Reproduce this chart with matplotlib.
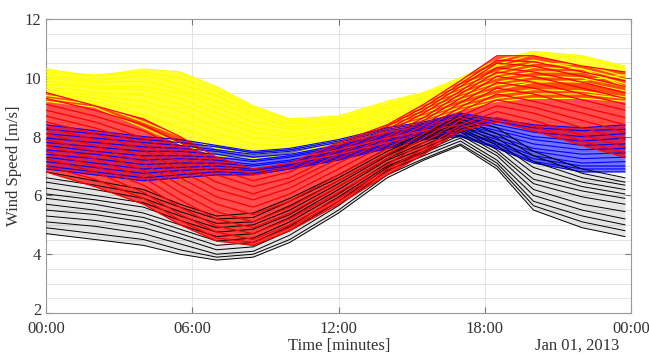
import numpy as np
import matplotlib
matplotlib.use('Agg')
from matplotlib import pyplot as plt
from matplotlib.transforms import ScaledTranslation

hours = [0, 2, 4, 5.5, 7, 8.5, 10, 12, 14, 15.5, 17, 18.5, 20, 22, 23.75]

yellow_days = [
    [10.3, 10.05, 10.3, 10.2, 9.7, 9.05, 8.6, 8.7, 9.2, 9.5, 10.0, 10.6, 10.9, 10.75, 10.4],
    [10.2, 10.1, 10.2, 10.0, 9.55, 8.95, 8.55, 8.6, 9.1, 9.45, 9.9, 10.45, 10.8, 10.7, 10.3],
    [10.1, 9.9, 10.1, 9.8, 9.4, 8.8, 8.45, 8.55, 9.0, 9.35, 9.85, 10.4, 10.6, 10.3, 9.7],
    [10.0, 9.85, 9.9, 9.6, 9.2, 8.7, 8.35, 8.45, 8.95, 9.3, 9.75, 10.2, 10.5, 10.45, 10.05],
    [9.9, 9.7, 9.7, 9.5, 9.0, 8.5, 8.25, 8.4, 8.85, 9.2, 9.65, 10.1, 10.35, 10.3, 9.95],
    [9.8, 9.65, 9.6, 9.3, 8.8, 8.3, 8.1, 8.3, 8.75, 9.1, 9.55, 10.0, 10.2, 10.2, 9.8],
    [9.7, 9.5, 9.4, 9.1, 8.6, 8.15, 8.0, 8.2, 8.65, 9.0, 9.45, 9.85, 10.05, 10.0, 9.7],
    [9.6, 9.4, 9.2, 8.85, 8.35, 7.95, 7.85, 8.1, 8.55, 8.9, 9.35, 9.75, 9.9, 9.85, 9.55],
    [9.5, 9.3, 9.0, 8.6, 8.1, 7.75, 7.7, 7.95, 8.45, 8.8, 9.25, 9.6, 9.85, 9.9, 10.1],
    [9.4, 9.2, 8.75, 8.3, 7.85, 7.55, 7.6, 7.9, 8.35, 8.7, 9.1, 9.45, 9.6, 9.55, 9.35],
    [9.3, 9.1, 8.5, 8.0, 7.6, 7.4, 7.5, 7.85, 8.25, 8.6, 9.0, 9.3, 9.45, 9.45, 9.3],
    [9.2, 9.0, 8.3, 7.75, 7.35, 7.25, 7.4, 7.8, 8.2, 8.5, 8.9, 9.2, 9.3, 9.3, 9.2],
]

blue_days = [
    [8.4, 8.2, 8.0, 7.9, 7.7, 7.5, 7.6, 7.9, 8.3, 8.5, 8.8, 8.6, 8.4, 8.3, 8.4],
    [8.25, 8.1, 7.9, 7.8, 7.65, 7.45, 7.55, 7.85, 8.25, 8.45, 8.75, 8.5, 8.3, 8.2, 8.25],
    [8.1, 7.95, 7.8, 7.7, 7.55, 7.4, 7.5, 7.8, 8.2, 8.4, 8.7, 8.4, 8.15, 8.0, 8.1],
    [7.95, 7.8, 7.65, 7.6, 7.5, 7.3, 7.4, 7.7, 8.1, 8.35, 8.6, 8.3, 8.0, 7.85, 7.95],
    [7.8, 7.65, 7.5, 7.5, 7.4, 7.2, 7.35, 7.65, 8.05, 8.3, 8.5, 8.2, 7.9, 7.7, 7.75],
    [7.7, 7.5, 7.35, 7.35, 7.3, 7.15, 7.3, 7.6, 8.0, 8.25, 8.45, 8.1, 7.75, 7.55, 7.6],
    [7.55, 7.4, 7.2, 7.25, 7.2, 7.05, 7.2, 7.5, 7.9, 8.15, 8.35, 8.0, 7.6, 7.4, 7.45],
    [7.4, 7.25, 7.05, 7.1, 7.1, 7.0, 7.15, 7.45, 7.85, 8.1, 8.3, 7.9, 7.5, 7.25, 7.3],
    [7.3, 7.1, 6.9, 6.95, 7.0, 6.9, 7.05, 7.35, 7.75, 8.05, 8.2, 7.8, 7.35, 7.1, 7.15],
    [7.15, 6.95, 6.75, 6.85, 6.9, 6.85, 7.0, 7.3, 7.7, 8.0, 8.15, 7.75, 7.25, 7.0, 7.0],
    [7.0, 6.8, 6.6, 6.7, 6.8, 6.75, 6.95, 7.25, 7.65, 7.95, 8.05, 7.65, 7.15, 6.9, 6.9],
    [6.9, 6.7, 6.5, 6.6, 6.7, 6.7, 6.9, 7.2, 7.6, 7.9, 8.0, 7.6, 7.1, 6.8, 6.8],
]

black_days = [
    [6.8, 6.5, 6.2, 5.7, 5.3, 5.4, 5.9, 6.7, 7.6, 8.1, 8.7, 8.3, 7.5, 6.9, 6.6],
    [6.6, 6.35, 6.05, 5.6, 5.2, 5.25, 5.8, 6.6, 7.5, 8.05, 8.6, 8.1, 7.35, 6.75, 6.45],
    [6.45, 6.2, 5.9, 5.45, 5.05, 5.1, 5.65, 6.5, 7.4, 7.95, 8.5, 7.95, 7.15, 6.6, 6.35],
    [6.25, 6.0, 5.75, 5.3, 4.9, 5.0, 5.5, 6.4, 7.35, 7.9, 8.4, 7.8, 6.95, 6.45, 6.2],
    [6.05, 5.85, 5.6, 5.15, 4.75, 4.85, 5.35, 6.3, 7.25, 7.8, 8.3, 7.7, 6.75, 6.3, 6.05],
    [5.9, 5.7, 5.4, 5.0, 4.6, 4.7, 5.25, 6.2, 7.2, 7.7, 8.25, 7.55, 6.55, 6.15, 5.9],
    [5.7, 5.5, 5.25, 4.85, 4.45, 4.55, 5.1, 6.05, 7.1, 7.6, 8.15, 7.45, 6.4, 5.95, 5.7],
    [5.5, 5.35, 5.1, 4.7, 4.3, 4.4, 4.95, 5.95, 7.0, 7.5, 8.05, 7.35, 6.2, 5.7, 5.45],
    [5.3, 5.15, 4.9, 4.55, 4.15, 4.25, 4.8, 5.8, 6.95, 7.45, 7.95, 7.2, 6.0, 5.5, 5.2],
    [5.1, 4.95, 4.7, 4.35, 4.0, 4.1, 4.65, 5.65, 6.85, 7.35, 7.85, 7.1, 5.8, 5.3, 5.0],
    [4.9, 4.7, 4.5, 4.15, 3.9, 4.0, 4.5, 5.5, 6.7, 7.25, 7.75, 7.0, 5.65, 5.1, 4.8],
    [4.7, 4.5, 4.3, 4.0, 3.8, 3.9, 4.4, 5.4, 6.6, 7.2, 7.7, 6.9, 5.5, 4.9, 4.6],
]

red_days = [
    [9.5, 9.05, 8.6, 8.0, 7.3, 6.9, 7.1, 7.8, 8.4, 9.1, 9.9, 10.75, 10.75, 10.4, 10.2],
    [9.3, 8.9, 8.4, 7.8, 7.1, 6.7, 6.95, 7.7, 8.35, 9.0, 9.8, 10.6, 10.55, 10.2, 9.9],
    [9.1, 8.7, 8.2, 7.6, 6.9, 6.5, 6.8, 7.55, 8.25, 8.9, 9.7, 10.5, 10.4, 10.05, 9.7],
    [8.9, 8.5, 7.95, 7.35, 6.7, 6.3, 6.6, 7.4, 8.15, 8.8, 9.55, 10.35, 10.2, 9.85, 9.5],
    [8.7, 8.3, 7.75, 7.1, 6.45, 6.05, 6.45, 7.25, 8.0, 8.65, 9.45, 10.2, 10.05, 9.65, 9.3],
    [8.5, 8.1, 7.55, 6.85, 6.2, 5.85, 6.25, 7.1, 7.9, 8.55, 9.3, 10.05, 9.85, 9.45, 9.1],
    [8.3, 7.9, 7.3, 6.6, 5.95, 5.6, 6.05, 6.9, 7.75, 8.4, 9.15, 9.85, 9.65, 9.25, 8.9],
    [8.1, 7.7, 7.1, 6.35, 5.7, 5.35, 5.8, 6.7, 7.6, 8.25, 9.0, 9.65, 9.45, 9.0, 8.65],
    [7.9, 7.5, 6.85, 6.1, 5.45, 5.1, 5.6, 6.5, 7.4, 8.1, 8.85, 9.45, 9.2, 8.8, 8.4],
    [7.7, 7.25, 6.6, 5.85, 5.2, 4.9, 5.4, 6.3, 7.25, 7.95, 8.7, 9.25, 9.0, 8.55, 8.15],
    [7.5, 7.0, 6.35, 5.6, 4.95, 4.7, 5.2, 6.1, 7.05, 7.8, 8.55, 9.05, 8.8, 8.3, 7.9],
    [7.25, 6.8, 6.1, 5.35, 4.75, 4.5, 5.0, 5.9, 6.9, 7.6, 8.4, 8.85, 8.55, 8.05, 7.65],
    [7.0, 6.55, 5.9, 5.15, 4.55, 4.4, 4.9, 5.8, 6.8, 7.5, 8.3, 8.65, 8.35, 7.85, 7.45],
    [6.8, 6.3, 5.7, 5.0, 4.45, 4.3, 4.8, 5.7, 6.7, 7.4, 8.2, 8.5, 8.2, 7.7, 7.3],
]

tick_hours = [0, 6, 12, 18, 24]
tick_labels = ['00:00', '06:00', '12:00', '18:00', '00:00']

plt.rcParams['font.family'] = ['Liberation Serif', 'DejaVu Serif']
plt.rcParams['font.size'] = 12
plt.rcParams['text.color'] = '#333333'
plt.rcParams['axes.labelcolor'] = '#333333'
plt.rcParams['xtick.labelcolor'] = '#333333'
plt.rcParams['ytick.labelcolor'] = '#333333'

fig = plt.figure(figsize=(6.49, 3.54), dpi=100)
ax = fig.add_axes([0.0709, 0.1158, 0.9014, 0.8305])

groups = [
    (yellow_days, '#ffff00', 0.8, 0.9),
    (blue_days, '#0000ff', 0.55, 0.8),
    (black_days, '#000000', 0.1, 0.7),
    (red_days, '#ff0000', 0.7, 0.9),
]
for days, col, fill_alpha, lw in groups:
    arr = np.array(days)
    ax.fill_between(hours, arr.min(axis=0), arr.max(axis=0), color=col,
                    alpha=fill_alpha, lw=0, zorder=2)
    for d in days:
        ax.plot(hours, d, color=col, lw=lw, zorder=3)

ax.set_xlim(0, 24)
ax.set_ylim(2, 12)
ax.set_xticks(tick_hours)
ax.set_xticklabels(tick_labels)
ax.set_yticks([2, 4, 6, 8, 10, 12])
ax.set_yticks(np.arange(2, 12, 0.5), minor=True)
ax.grid(True, which='major', color='#e4e4e4', lw=0.7)
ax.grid(True, which='minor', axis='y', color='#e4e4e4', lw=0.7)
ax.tick_params(direction='in', length=4, top=True, right=True, color='#777777')
ax.tick_params(axis='x', pad=6)
ax.tick_params(which='minor', length=0)
for s in ax.spines.values():
    s.set_color('#999999')
    s.set_linewidth(0.8)
ax.set_axisbelow(True)

# lift the bottom y label a little so it clears the first time label
lbl = ax.get_yticklabels()[0]
lbl.set_transform(lbl.get_transform() + ScaledTranslation(0, 3 / 72, fig.dpi_scale_trans))

ax.set_ylabel('Wind Speed [m/s]', labelpad=2)
fig.text(0.522, 0.0, 'Time [minutes]', ha='center', va='bottom')
fig.text(0.889, 0.0, 'Jan 01, 2013', ha='center', va='bottom')

fig.savefig('out.png', dpi=100)
